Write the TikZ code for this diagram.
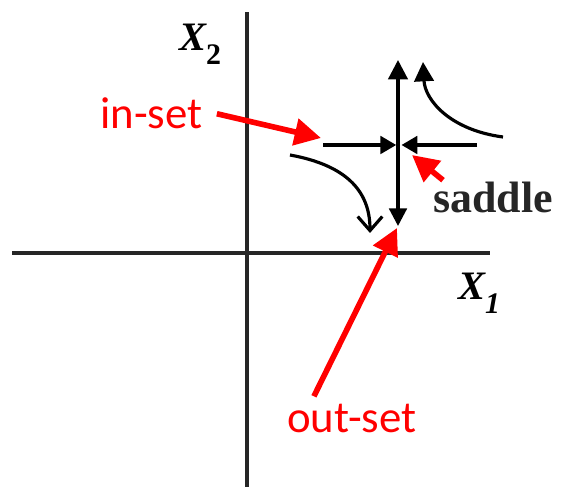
\documentclass[tikz,border=0pt]{standalone}
\usepackage{fontspec}
\setmainfont{Liberation Serif}
\newfontfamily\calibri{Carlito}
\usetikzlibrary{arrows.meta,positioning}
\definecolor{annot}{RGB}{255,0,0}

\begin{document}
\begin{tikzpicture}[x=0.02cm,y=-0.02cm,
  axis/.style={line width=1.9pt,black!85},
  flow/.style={line width=1.8pt},
  axislabel/.style={font=\bfseries\itshape\fontsize{23}{24}\selectfont,inner sep=0pt},
  redarrow/.style={annot,line width=3.2pt,-{Triangle[length=15pt,width=15pt]}},
  redlabel/.style={annot,font=\calibri\fontsize{25.5}{26}\selectfont,inner sep=0pt,anchor=base west}]
\useasboundingbox (0,0) rectangle (569,489);
% axes
\coordinate (xl) at (12,253);
\coordinate (xr) at (490,253);
\coordinate (yb) at (247,487);
\coordinate (yt) at (247,12);
\draw[axis] (xl) -- (xr);
\draw[axis] (yb) -- (yt);
\node[axislabel] (xtwo) at (200,44) {X\raisebox{-0.35em}{\fontsize{17}{17}\selectfont\upshape 2}};
\node[axislabel] (xone) at (479,293) {X\raisebox{-0.35em}{\fontsize{17}{17}\selectfont 1}};
% saddle and its lines
\coordinate (sp) at (398,145);
\coordinate (vtop) at (398,60);
\coordinate (vbot) at (398,226);
\coordinate (hl) at (323,145);
\coordinate (hr) at (477,145);
\draw[flow,-{Triangle[length=11pt,width=11pt]}] (sp) -- (vtop);
\draw[flow,-{Triangle[length=10pt,width=10pt]}] (sp) -- (vbot);
\draw[flow,-{Triangle[length=9pt,width=10pt]}] (hl) -- ([xshift=-1pt]sp);
\draw[flow,-{Triangle[length=9pt,width=10pt]}] (hr) -- ([xshift=2pt]sp);
% trajectories
\coordinate (ura) at (503,137);
\coordinate (urb) at (423,62);
\draw[flow,-{Triangle[length=11pt,width=11pt]}] (ura) .. controls (450,130) and (425,100) .. (urb);
\coordinate (lla) at (290,155);
\coordinate (llb) at (370,233);
\draw[flow,-{Straight Barb[length=8pt,width=14pt]}] (lla) .. controls (345,165) and (370,190) .. (llb);
% labels
\node[redlabel] (inset) at (100,129) {in-set};
\node[redlabel] (outset) at (287,433) {out-set};
\node[font=\bfseries\fontsize{25}{26}\selectfont,inner sep=0pt,anchor=base west,black!85] (saddlelbl) at (433,213) {saddle};
\draw[redarrow] ([xshift=8pt]inset.east) -- ([shift={(-2,-7)}]hl);
\draw[redarrow] ([shift={(-38,-8)}]outset.north) -- ([shift={(-1,2)}]vbot);
\draw[redarrow] ([shift={(10,-2)}]saddlelbl.north west) -- ([shift={(14,10)}]sp);
\end{tikzpicture}
\end{document}
